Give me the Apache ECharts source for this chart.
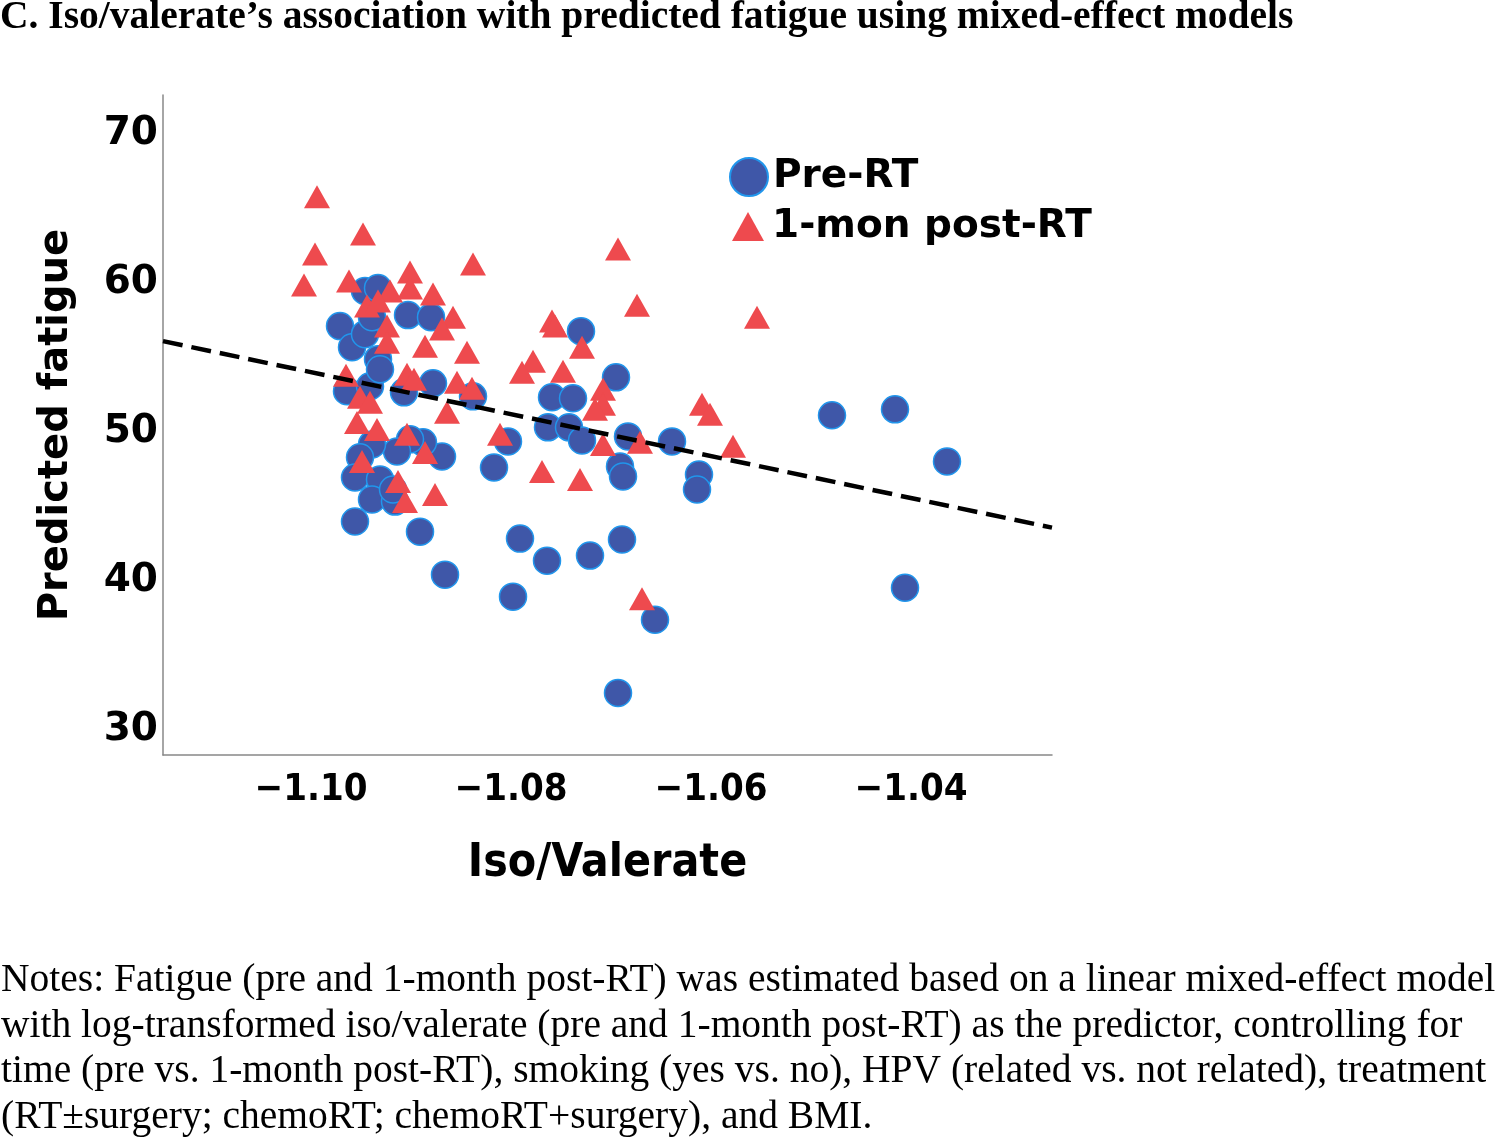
<!DOCTYPE html>
<html>
<head>
<meta charset="utf-8">
<script src="https://cdn.jsdelivr.net/npm/echarts@6/dist/echarts.min.js"></script>
<style>
html,body{margin:0;padding:0;background:#fff;}
#chart{width:1500px;height:1139px;}
</style>
</head>
<body>
<div id="chart"></div>
<script>
var titleText = "C. Iso/valerate\u2019s association with predicted fatigue using mixed-effect models";
var noteLines = [
  "Notes: Fatigue (pre and 1-month post-RT) was estimated based on a linear mixed-effect model",
  "with log-transformed iso/valerate (pre and 1-month post-RT) as the predictor, controlling for",
  "time (pre vs. 1-month post-RT), smoking (yes vs. no), HPV (related vs. not related), treatment",
  "(RT\u00b1surgery; chemoRT; chemoRT+surgery), and BMI."
];
var seriesNames = ["Pre-RT", "1-mon post-RT"];
var xTicks = [-1.10, -1.08, -1.06, -1.04];
var yTicks = [30, 40, 50, 60, 70];

var preRT = [
  [-1.0971,56.87],[-1.0959,55.45],[-1.0946,59.23],[-1.0933,59.43],[-1.0946,56.33],
  [-1.0933,54.65],[-1.0903,57.61],[-1.0880,57.47],[-1.0878,53.03],[-1.0964,52.49],
  [-1.0941,52.83],[-1.0907,52.42],[-1.0838,52.15],[-1.0730,56.53],[-1.0759,52.09],
  [-1.0738,52.02],[-1.0695,53.43],[-1.0763,50.07],[-1.0742,50.07],[-1.0729,49.19],
  [-1.0683,49.46],[-1.0639,49.12],[-1.0803,49.12],[-1.0817,47.37],[-1.0869,48.11],
  [-1.0888,49.06],[-1.0901,49.26],[-1.0914,48.45],[-1.0939,48.92],[-1.0951,48.05],
  [-1.0956,46.70],[-1.0931,46.57],[-1.0939,45.22],[-1.0916,45.08],[-1.0918,45.89],
  [-1.0956,43.74],[-1.0891,43.06],[-1.0691,47.44],[-1.0688,46.77],[-1.0612,46.90],
  [-1.0614,45.89],[-1.0479,50.88],[-1.0416,51.28],[-1.0364,47.78],[-1.0866,40.17],
  [-1.0798,38.69],[-1.0791,42.59],[-1.0764,41.11],[-1.0721,41.45],[-1.0689,42.53],
  [-1.0656,37.14],[-1.0693,32.22],[-1.0406,39.29],[-1.0931,53.97],[-1.0939,57.47]
];
var postRT = [
  [-1.0994,65.56],[-1.0948,63.06],[-1.0996,61.72],[-1.1007,59.63],[-1.0962,59.90],
  [-1.0901,60.51],[-1.0838,61.04],[-1.0901,59.43],[-1.0878,59.02],[-1.0921,59.23],
  [-1.0944,58.22],[-1.0933,58.55],[-1.0924,56.87],[-1.0924,55.79],[-1.0886,55.52],
  [-1.0858,57.47],[-1.0869,56.67],[-1.0844,55.12],[-1.0965,53.57],[-1.0904,53.64],
  [-1.0897,53.30],[-1.0854,53.10],[-1.0839,52.69],[-1.0951,52.09],[-1.0941,51.75],
  [-1.0954,50.40],[-1.0934,49.93],[-1.0904,49.60],[-1.0864,51.08],[-1.0811,49.60],
  [-1.0949,47.78],[-1.0886,48.38],[-1.0913,46.43],[-1.0906,45.08],[-1.0876,45.56],
  [-1.0759,57.21],[-1.0756,56.87],[-1.0729,55.45],[-1.0778,54.51],[-1.0789,53.77],
  [-1.0748,53.84],[-1.0708,52.63],[-1.0708,51.62],[-1.0716,51.28],[-1.0708,48.92],
  [-1.0671,49.06],[-1.0693,62.05],[-1.0674,58.28],[-1.0554,57.47],[-1.0609,51.62],
  [-1.0601,50.94],[-1.0578,48.79],[-1.0769,47.10],[-1.0731,46.57],[-1.0669,38.55]
];
var fitLine = [[-1.1148,55.86],[-1.0259,43.33]];

var chart = echarts.init(document.getElementById('chart'), null, {renderer:'canvas'});
var notesText = noteLines.join('\n');
var legendText = {fontFamily:'DejaVu Sans', fontWeight:'bold', fontSize:39, color:'#000'};
chart.setOption({
  backgroundColor:'#fff',
  animation:false,
  title:[
    {text:titleText, left:0, top:-2, padding:0, textStyle:{fontFamily:'Liberation Serif', fontWeight:'bold', fontSize:39.5, color:'#000'}},
    {text:notesText, left:1, top:958, padding:0, textStyle:{fontFamily:'Liberation Serif', fontWeight:'normal', fontSize:39.5, lineHeight:45.5, color:'#000'}}
  ],
  legend:[
    {orient:'vertical', left:729, top:157, padding:0, itemWidth:38, itemHeight:38,
      textStyle:legendText, data:[seriesNames[0]]},
    {orient:'vertical', left:732, top:207, padding:0, itemWidth:32, itemHeight:29,
      textStyle:Object.assign({padding:[0,0,0,3]}, legendText), data:[seriesNames[1]]}
  ],
  grid:{left:163, right:448, top:95, bottom:384, containLabel:false},
  xAxis:{
    type:'value', min:-1.1148, max:-1.0259,
    name:'Iso/Valerate', nameLocation:'middle', nameGap:86,
    nameTextStyle:{fontFamily:'DejaVu Sans Condensed', fontWeight:'bold', fontSize:46, color:'#000'},
    axisLine:{show:true, lineStyle:{color:'#888', width:1.5}},
    axisTick:{show:false}, splitLine:{show:false},
    axisLabel:{customValues:xTicks, margin:16, fontFamily:'DejaVu Sans Condensed', fontWeight:'bold', fontSize:38, color:'#000',
      formatter:function(v){return (v<0?'\u2212':'')+Math.abs(v).toFixed(2);}}
  },
  yAxis:{
    type:'value', min:28.05, max:72.4,
    name:'Predicted fatigue', nameLocation:'middle', nameGap:86, nameRotate:90,
    nameTextStyle:{fontFamily:'DejaVu Sans', fontWeight:'bold', fontSize:40, color:'#000'},
    axisLine:{show:true, lineStyle:{color:'#888', width:1.5}},
    axisTick:{show:false}, splitLine:{show:false},
    axisLabel:{customValues:yTicks, margin:5, color:'#000',
      formatter:function(v){return '{t|'+v+'}';},
      rich:{t:{fontFamily:'DejaVu Sans', fontWeight:'bold', fontSize:39, color:'#000', padding:[7,0,0,0]}}}
  },
  series:[
    {name:seriesNames[0], type:'scatter', data:preRT, symbol:'circle', symbolSize:27,
      itemStyle:{color:'#3F57A8', borderColor:'#2196EC', borderWidth:1.5, opacity:1}},
    {name:seriesNames[1], type:'scatter', data:postRT, symbol:'triangle', symbolSize:[26,23],
      itemStyle:{color:'#EE4A4E', opacity:1}},
    {name:'fit', type:'line', data:fitLine, symbol:'none', silent:true, z:5,
      lineStyle:{color:'#000', width:4.5, type:[20,9]}}
  ]
});
</script>
</body>
</html>
